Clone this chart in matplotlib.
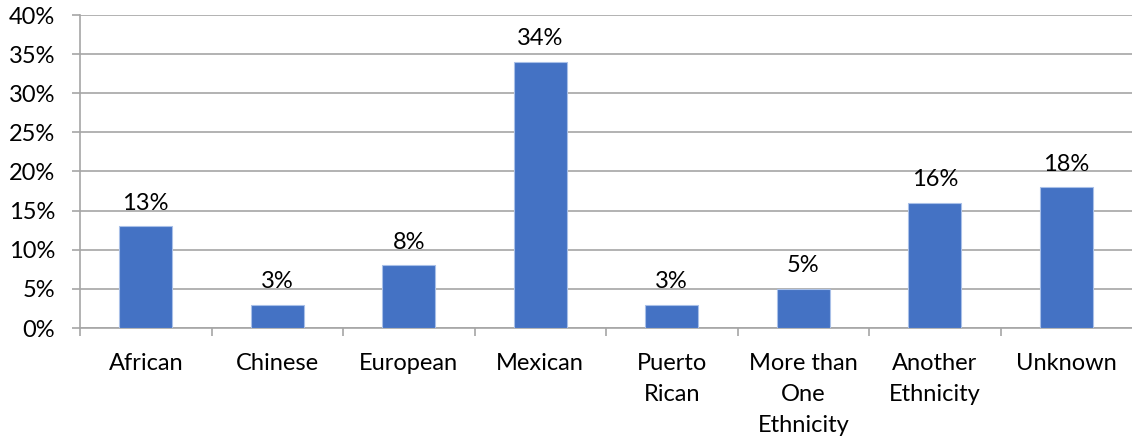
import matplotlib.pyplot as plt
import numpy as np
from matplotlib.ticker import FuncFormatter, MultipleLocator

plt.rcParams['font.family'] = ['Lato', 'DejaVu Sans']

categories = ['African', 'Chinese', 'European', 'Mexican', 'Puerto\nRican',
              'More than\nOne\nEthnicity', 'Another\nEthnicity', 'Unknown']
values = [13, 3, 8, 34, 3, 5, 16, 18]

fig = plt.figure(figsize=(11.32, 4.44), dpi=100)
ax = fig.add_axes([80 / 1132, 116 / 444, 1 - 80 / 1132, 313 / 444])

x = np.arange(len(categories))
bar_color = '#4472C4'
ax.bar(x, values, width=0.4, color=bar_color, edgecolor='#A9C0E8', linewidth=0.8, zorder=3)

for xi, v in zip(x, values):
    ax.annotate(f'{v}%', (xi, v), xytext=(0, 9), textcoords='offset points',
                ha='center', va='bottom', fontsize=17, color='#000000')

grid_color = '#A6A6A6'
ax.set_ylim(0, 40)
ax.set_xlim(-0.5, len(categories) - 0.5)
ax.yaxis.set_major_locator(MultipleLocator(5))
ax.yaxis.set_major_formatter(FuncFormatter(lambda v, p: f'{v:.0f}%'))
ax.grid(axis='y', color=grid_color, linewidth=1.2, zorder=0)

# category labels in the middle, tick marks at the boundaries
ax.set_xticks(x)
ax.set_xticklabels(categories, fontsize=17, linespacing=1.6, va='top')
ax.tick_params(axis='x', which='major', length=0, pad=18)
ax.set_xticks(np.arange(len(categories)) - 0.5, minor=True)
ax.tick_params(axis='x', which='minor', length=6, width=1.2, color=grid_color, direction='out')
ax.tick_params(axis='y', length=6, width=1.2, color=grid_color, labelsize=17, pad=12)

for side in ['top', 'right']:
    ax.spines[side].set_visible(False)
for side in ['left', 'bottom']:
    ax.spines[side].set_color(grid_color)
    ax.spines[side].set_linewidth(1.2)

plt.savefig('out.png', dpi=100)
